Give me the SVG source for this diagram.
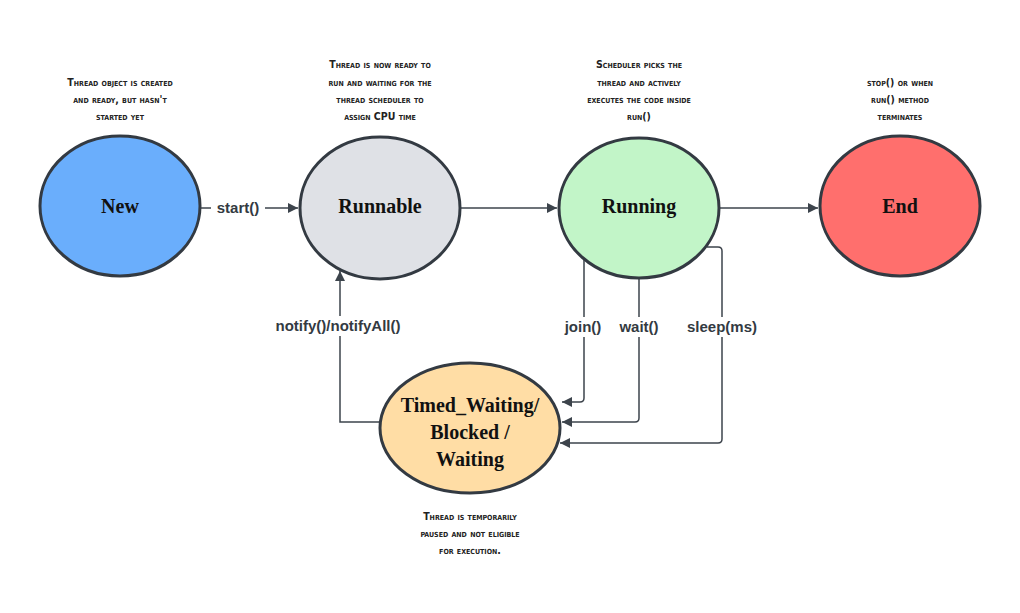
<svg xmlns="http://www.w3.org/2000/svg" width="1020" height="613" viewBox="0 0 1020 613">
<style>
.n{stroke:#333a42;stroke-width:3}
.t{font-family:"Liberation Serif",serif;font-weight:bold;font-size:20px;fill:#111;text-anchor:middle}
.a{font-family:"DejaVu Sans Condensed","DejaVu Sans",sans-serif;font-weight:bold;font-size:10.5px;font-variant:small-caps;fill:#222;text-anchor:middle}
.c{fill:none;stroke:#3d444c;stroke-width:1.5}
.l{font-family:"Liberation Sans",Arial,sans-serif;font-weight:bold;font-size:15px;fill:#333a42;text-anchor:middle}
</style>
<defs><marker id="ar" viewBox="0 0 10 10" refX="10" refY="5" markerWidth="10" markerHeight="10" markerUnits="userSpaceOnUse" orient="auto"><path d="M0,0L10,5L0,10z" fill="#3d444c"/></marker></defs>
<rect width="1020" height="613" fill="#fff"/>
<g id="connectors">
<path class="c" d="M200,208H298" marker-end="url(#ar)"/>
<path class="c" d="M461,208H557" marker-end="url(#ar)"/>
<path class="c" d="M720,208H818" marker-end="url(#ar)"/>
<path class="c" d="M584,258V398q0,4-4,4H562" marker-end="url(#ar)"/>
<path class="c" d="M639,279V418q0,4-4,4H562" marker-end="url(#ar)"/>
<path class="c" d="M707,247H718q4,0,4,4V439q0,4-4,4H560" marker-end="url(#ar)"/>
<path class="c" d="M381,422H340V271" marker-end="url(#ar)"/>
<rect x="211" y="198" width="54" height="20" fill="#fff"/>
<text class="l" x="238" y="213">start()</text>
<rect x="262" y="316" width="152" height="20" fill="#fff"/>
<text class="l" x="338" y="331">notify()/notifyAll()</text>
<rect x="560" y="317" width="48" height="20" fill="#fff"/>
<text class="l" x="583" y="332">join()</text>
<rect x="615" y="317" width="48" height="20" fill="#fff"/>
<text class="l" x="639" y="332">wait()</text>
<rect x="680" y="317" width="84" height="20" fill="#fff"/>
<text class="l" x="722" y="332">sleep(ms)</text>
</g>
<g id="new"><ellipse class="n" cx="120" cy="206" rx="80" ry="70" fill="#6aaefc"/><text class="t" x="120" y="213">New</text></g>
<g id="runnable"><ellipse class="n" cx="380" cy="208" rx="80" ry="71" fill="#dfe1e6"/><text class="t" x="380" y="213">Runnable</text></g>
<g id="running"><ellipse class="n" cx="639" cy="208" rx="80" ry="70" fill="#c2f5c8"/><text class="t" x="639" y="213">Running</text></g>
<g id="end"><ellipse class="n" cx="900" cy="206" rx="80" ry="70" fill="#ff6f6d"/><text class="t" x="900" y="213">End</text></g>
<g id="waiting"><ellipse class="n" cx="470" cy="428" rx="90" ry="65" fill="#ffdda5"/>
<text class="t" x="470" y="412">Timed_Waiting/</text><text class="t" x="470" y="439">Blocked /</text><text class="t" x="470" y="466">Waiting</text></g>
<g id="notes">
<text class="a" x="120" y="86">Thread object is created</text><text class="a" x="120" y="103">and ready, but hasn't</text><text class="a" x="120" y="120">started yet</text>
<text class="a" x="380" y="68">Thread is now ready to</text><text class="a" x="380" y="86">run and waiting for the</text><text class="a" x="380" y="103">thread scheduler to</text><text class="a" x="380" y="120">assign CPU time</text>
<text class="a" x="639" y="68">Scheduler picks the</text><text class="a" x="639" y="86">thread and actively</text><text class="a" x="639" y="103">executes the code inside</text><text class="a" x="639" y="120">run()</text>
<text class="a" x="900" y="86">stop() or when</text><text class="a" x="900" y="103">run() method</text><text class="a" x="900" y="120">terminates</text>
<text class="a" x="470" y="520">Thread is temporarily</text><text class="a" x="470" y="537">paused and not eligible</text><text class="a" x="470" y="554">for execution.</text>
</g>
</svg>
